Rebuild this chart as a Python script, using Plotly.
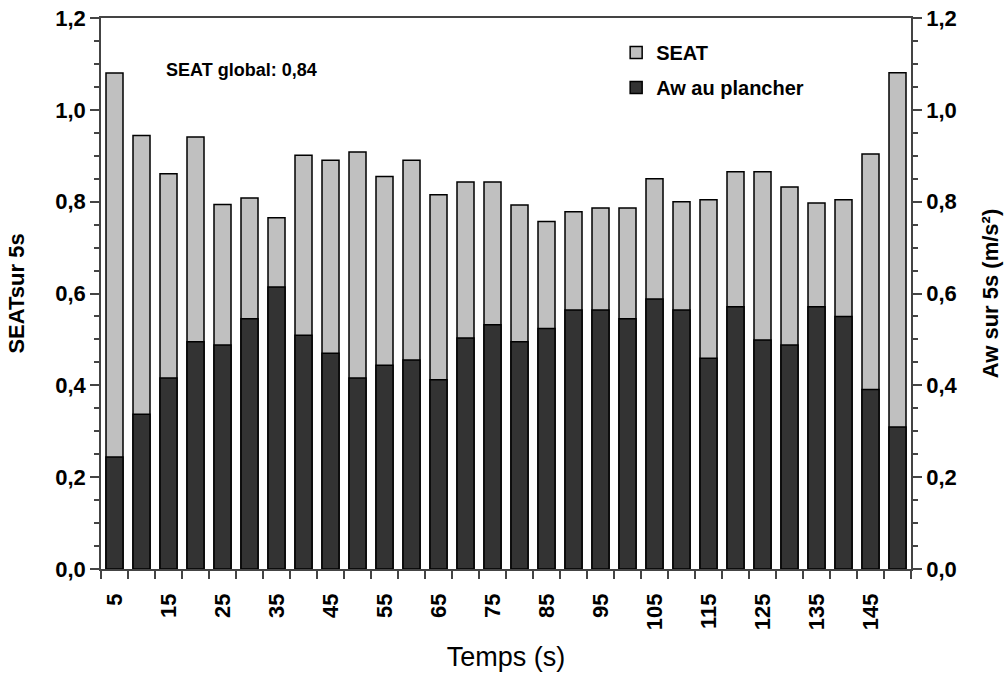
import plotly.graph_objects as go

# Time windows (s) and per-window values
temps = [5, 10, 15, 20, 25, 30, 35, 40, 45, 50, 55, 60, 65, 70, 75,
         80, 85, 90, 95, 100, 105, 110, 115, 120, 125, 130, 135, 140, 145, 150]
seat = [1.08, 0.944, 0.861, 0.941, 0.794, 0.808, 0.765, 0.901, 0.890, 0.908,
        0.855, 0.890, 0.815, 0.843, 0.843, 0.793, 0.757, 0.778, 0.786, 0.786,
        0.850, 0.800, 0.804, 0.865, 0.865, 0.832, 0.797, 0.804, 0.904, 1.081]
aw_plancher = [0.244, 0.337, 0.416, 0.495, 0.488, 0.545, 0.614, 0.509, 0.470, 0.416,
               0.444, 0.455, 0.412, 0.503, 0.532, 0.495, 0.524, 0.564, 0.564, 0.545,
               0.588, 0.564, 0.459, 0.571, 0.499, 0.488, 0.571, 0.550, 0.391, 0.309]
x_labels = [5, 15, 25, 35, 45, 55, 65, 75, 85, 95, 105, 115, 125, 135, 145]
seat_global = "0,84"

step = temps[1] - temps[0]
boundaries = [t - step / 2 for t in temps] + [temps[-1] + step / 2]

FAMILY = "Liberation Sans, Arial, sans-serif"
AXIS_COLOR = "#444444"


def bold(size):
    return dict(family=FAMILY, size=size, color="black", weight="bold")


fig = go.Figure()
fig.add_trace(go.Bar(
    x=temps, y=seat, name="SEAT", width=3.15,
    marker=dict(color="#C0C0C0", line=dict(color="black", width=1.5)),
    legendgroup="a", yaxis="y",
))
fig.add_trace(go.Bar(
    x=temps, y=aw_plancher, name="Aw au plancher", width=3.15,
    marker=dict(color="#333333", line=dict(color="black", width=1.5)),
    legendgroup="b", yaxis="y2",
))

fig.add_annotation(
    text="SEAT global: " + seat_global,
    xref="paper", yref="paper", x=0.174, y=0.906,
    xanchor="center", yanchor="middle",
    showarrow=False, font=bold(18),
)

fig.update_layout(
    width=1005, height=677,
    margin=dict(l=101, r=94, t=18, b=108),
    paper_bgcolor="white", plot_bgcolor="white",
    barmode="overlay",
    separators=", ",
    showlegend=True,
    legend=dict(
        x=0.636, y=0.973, xanchor="left", yanchor="top",
        font=bold(20),
        bgcolor="rgba(0,0,0,0)", traceorder="grouped", tracegroupgap=6,
    ),
    xaxis=dict(
        range=[boundaries[0], boundaries[-1]],
        tickmode="array", tickvals=x_labels, ticktext=[str(v) for v in x_labels],
        ticks="", tickangle=-90, ticklabelstandoff=14,
        tickfont=bold(22),
        showline=True, linecolor=AXIS_COLOR, linewidth=1.5, mirror=True,
        showgrid=False, zeroline=False, automargin=False,
        minor=dict(tickmode="array", tickvals=boundaries, ticks="outside",
                   ticklen=8, tickcolor=AXIS_COLOR, tickwidth=1.5, showgrid=False),
        title=dict(text="Temps (s)", standoff=18,
                   font=dict(family=FAMILY, size=27, color="black")),
    ),
    yaxis=dict(
        range=[0, 1.2], dtick=0.2, tickformat=".1f",
        ticks="outside", ticklen=9, tickwidth=1.5, tickcolor=AXIS_COLOR,
        tickfont=bold(22),
        showline=True, linecolor=AXIS_COLOR, linewidth=1.5,
        showgrid=False, zeroline=False, automargin=False,
        minor=dict(dtick=0.05, ticks="outside", ticklen=5, tickcolor=AXIS_COLOR,
                   tickwidth=1.5, showgrid=False),
        title=dict(text="SEATsur 5s", standoff=25, font=bold(22)),
    ),
    yaxis2=dict(
        overlaying="y", side="right", anchor="x",
        range=[0, 1.2], dtick=0.2, tickformat=".1f",
        ticks="outside", ticklen=9, tickwidth=1.5, tickcolor=AXIS_COLOR,
        tickfont=bold(22),
        showline=True, linecolor=AXIS_COLOR, linewidth=1.5,
        showgrid=False, zeroline=False, automargin=False,
        minor=dict(dtick=0.05, ticks="outside", ticklen=5, tickcolor=AXIS_COLOR,
                   tickwidth=1.5, showgrid=False),
        title=dict(text="Aw sur 5s (m/s²)", standoff=26, font=bold(22)),
    ),
)

fig.write_html("out.html")
